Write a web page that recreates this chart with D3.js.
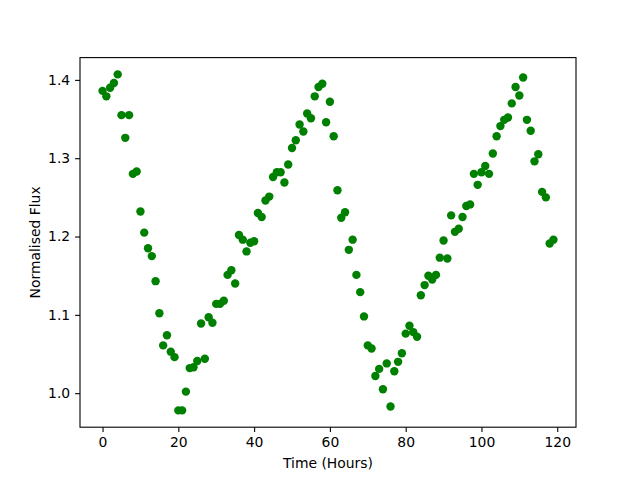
<!DOCTYPE html>
<html>
<head>
<meta charset="utf-8">
<script src="https://cdn.jsdelivr.net/npm/d3@7"></script>
<style>
  body { margin: 0; background: #fff; }
  text { font-family: "DejaVu Sans", sans-serif; }
</style>
</head>
<body>
<div id="scatter"></div>
<script>
// hours since start
const hours = d3.range(0, 120);

// normalised flux, one per hour
const flux = [
    1.386, 1.379, 1.390, 1.396, 1.407, 1.355, 1.326, 1.355, 1.280, 1.283,
    1.232, 1.205, 1.185, 1.175, 1.143, 1.102, 1.061, 1.074, 1.053, 1.046,
    0.978, 0.978, 1.002, 1.032, 1.033, 1.041, 1.089, 1.044, 1.097, 1.090,
    1.114, 1.114, 1.118, 1.151, 1.157, 1.140, 1.202, 1.196, 1.181, 1.192,
    1.194, 1.230, 1.225, 1.246, 1.251, 1.276, 1.282, 1.282, 1.269, 1.292,
    1.313, 1.323, 1.343, 1.334, 1.357, 1.351, 1.379, 1.391, 1.395, 1.346,
    1.372, 1.328, 1.259, 1.224, 1.231, 1.183, 1.196, 1.151, 1.129, 1.098,
    1.061, 1.057, 1.022, 1.031, 1.005, 1.038, 0.983, 1.028, 1.040, 1.051,
    1.076, 1.086, 1.078, 1.072, 1.125, 1.138, 1.150, 1.145, 1.151, 1.173,
    1.195, 1.172, 1.227, 1.206, 1.210, 1.225, 1.239, 1.241, 1.280, 1.266,
    1.282, 1.290, 1.280, 1.306, 1.328, 1.341, 1.349, 1.352, 1.370, 1.391,
    1.380, 1.403, 1.349, 1.335, 1.296, 1.305, 1.257, 1.250, 1.191, 1.196
];

const xTicks = [0, 20, 40, 60, 80, 100, 120];
const yTicks = [1.0, 1.1, 1.2, 1.3, 1.4];

function DrawScatter() {
    var margin = { top: 57.6, right: 64, bottom: 52.8, left: 80 },
        width = 640 - margin.left - margin.right,
        height = 480 - margin.top - margin.bottom;

    var svg = d3.select("#scatter")
        .append("svg")
        .attr("width", 640)
        .attr("height", 480)
        .append("g")
        .attr("transform", "translate(" + margin.left + "," + margin.top + ")");

    // 5% padding like matplotlib autoscale
    var xExt = d3.extent(hours), yExt = d3.extent(flux);
    var xPad = (xExt[1] - xExt[0]) * 0.05, yPad = (yExt[1] - yExt[0]) * 0.05;
    var xScale = d3.scaleLinear().domain([xExt[0] - xPad, xExt[1] + xPad]).range([0, width]);
    var yScale = d3.scaleLinear().domain([yExt[0] - yPad, yExt[1] + yPad]).range([height, 0]);

    var xAxis = svg.append("g")
        .attr("transform", "translate(0," + height + ")")
        .call(d3.axisBottom(xScale).tickValues(xTicks).tickSize(4.9).tickPadding(4.9));

    var yAxis = svg.append("g")
        .call(d3.axisLeft(yScale).tickValues(yTicks).tickFormat(d3.format(".1f")).tickSize(4.9).tickPadding(4.9));

    [xAxis, yAxis].forEach(function (ax) {
        ax.select(".domain").remove();
        ax.selectAll("line").attr("stroke", "#000").attr("stroke-width", 1.1);
        ax.selectAll("text")
            .attr("font-family", "DejaVu Sans")
            .attr("font-size", "13.9px")
            .attr("fill", "#000");
    });

    svg.selectAll(".dot")
        .data(hours)
        .enter()
        .append("circle")
        .attr("cx", function (d) { return xScale(d); })
        .attr("cy", function (d, i) { return yScale(flux[i]); })
        .attr("r", 4.2)
        .attr("fill", "green");

    // frame
    svg.append("rect")
        .attr("width", width)
        .attr("height", height)
        .attr("fill", "none")
        .attr("stroke", "#000")
        .attr("stroke-width", 1.1);

    svg.append("text")
        .attr("x", width / 2)
        .attr("y", height + 41)
        .attr("text-anchor", "middle")
        .attr("font-size", "13.9px")
        .text("Time (Hours)");

    svg.append("text")
        .attr("transform", "translate(" + (-40) + "," + (height / 2) + ")rotate(-90)")
        .attr("text-anchor", "middle")
        .attr("font-size", "13.9px")
        .text("Normalised Flux");
}

DrawScatter();
</script>
</body>
</html>
